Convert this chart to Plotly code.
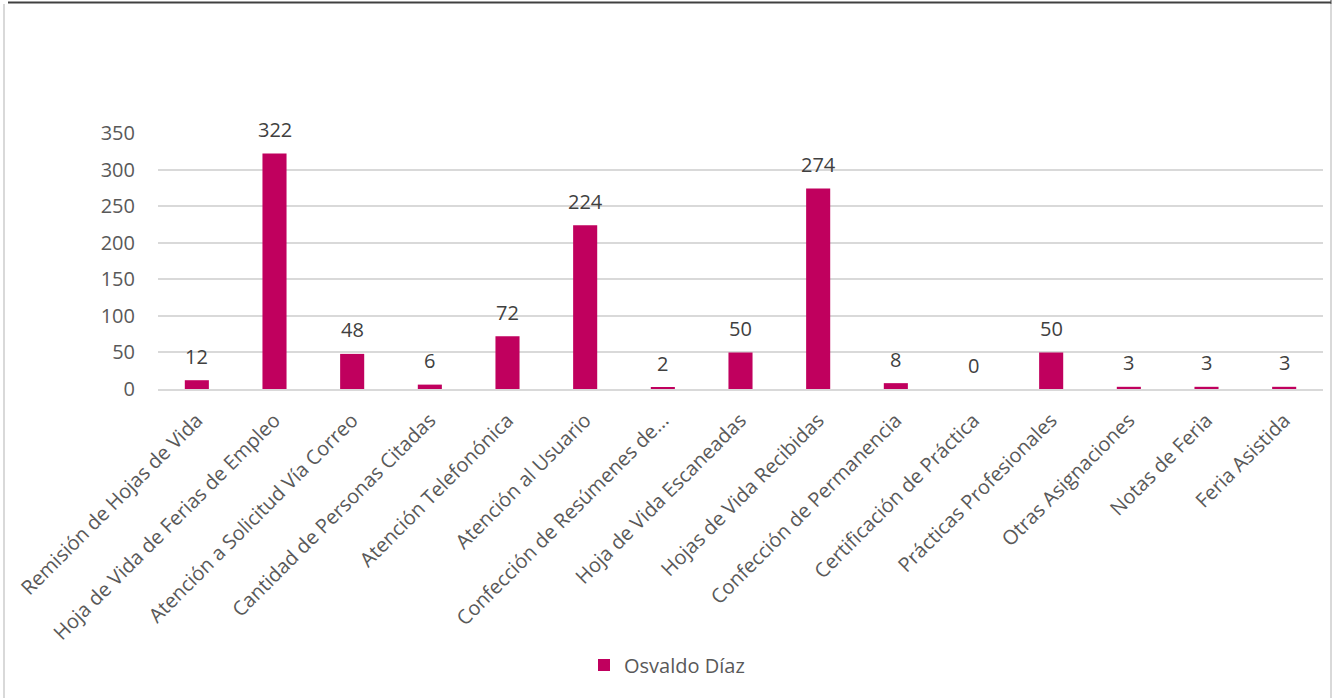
import plotly.graph_objects as go

categories = [
    "Remisión de Hojas de Vida",
    "Hoja de Vida de Ferias de Empleo",
    "Atención a Solicitud Vía Correo",
    "Cantidad de Personas Citadas",
    "Atención Telefonónica",
    "Atención al Usuario",
    "Confección de Resúmenes de...",
    "Hoja de Vida Escaneadas",
    "Hojas de Vida Recibidas",
    "Confección de Permanencia",
    "Certificación de Práctica",
    "Prácticas Profesionales",
    "Otras Asignaciones",
    "Notas de Feria",
    "Feria Asistida",
]
values = [12, 322, 48, 6, 72, 224, 2, 50, 274, 8, 0, 50, 3, 3, 3]
series_name = "Osvaldo Díaz"
y_ticks = [0, 50, 100, 150, 200, 250, 300, 350]

W, H = 1337, 698
L, R, T, B = 158, W - 1323, 133, H - 389
pw, ph = W - L - R, H - T - B

def px(x):
    return (x - L) / pw

def py(y):
    return (H - B - y) / ph

BAR = "#C0005E"
TXT = "#595959"
FONT = "Open Sans, Noto Sans, sans-serif"

fig = go.Figure()
fig.add_trace(go.Bar(
    x=categories, y=values, name=series_name,
    marker=dict(color=BAR, line=dict(width=0)),
    showlegend=True,
))

annotations = [
    dict(x=c, y=v, xref="x", yref="y", text=str(v), showarrow=False,
         yshift=24, font=dict(family=FONT, size=20, color="#404040"))
    for c, v in zip(categories, values)
]

shapes = [
    dict(type="line", xref="paper", yref="paper", x0=px(8), x1=px(1331),
         y0=py(2.5), y1=py(2.5), line=dict(color="#404040", width=2)),
    dict(type="line", xref="paper", yref="paper", x0=px(1331), x1=px(1331),
         y0=py(0), y1=py(4), line=dict(color="#404040", width=1)),
    dict(type="line", xref="paper", yref="paper", x0=px(4), x1=px(4),
         y0=py(4), y1=py(698), line=dict(color="#D9D9D9", width=2)),
    dict(type="line", xref="paper", yref="paper", x0=px(1331), x1=px(1331),
         y0=py(4), y1=py(698), line=dict(color="#D9D9D9", width=2)),
]

fig.update_layout(
    width=W, height=H,
    margin=dict(l=L, r=R, t=T, b=B, pad=0),
    paper_bgcolor="white", plot_bgcolor="white",
    bargap=0.69,
    font=dict(family=FONT, size=20, color=TXT),
    xaxis=dict(
        tickangle=-45, tickfont=dict(family=FONT, size=20, color=TXT),
        showgrid=False, showline=True, linecolor="#D9D9D9", linewidth=1.5,
        ticks="", automargin=False, ticklabelstandoff=10,
    ),
    yaxis=dict(
        range=[0, 350], tickvals=y_ticks,
        tickfont=dict(family=FONT, size=20, color=TXT),
        showgrid=True, gridcolor="#D9D9D9", gridwidth=1.5,
        zeroline=False, showline=False, ticks="", ticklabelstandoff=22,
        automargin=False,
    ),
    legend=dict(
        orientation="h", x=px(584), xanchor="left", y=py(665), yanchor="middle",
        font=dict(family=FONT, size=20, color=TXT),
        itemwidth=30, bgcolor="rgba(0,0,0,0)",
    ),
    annotations=annotations,
    shapes=shapes,
)

fig.write_html("out.html")
